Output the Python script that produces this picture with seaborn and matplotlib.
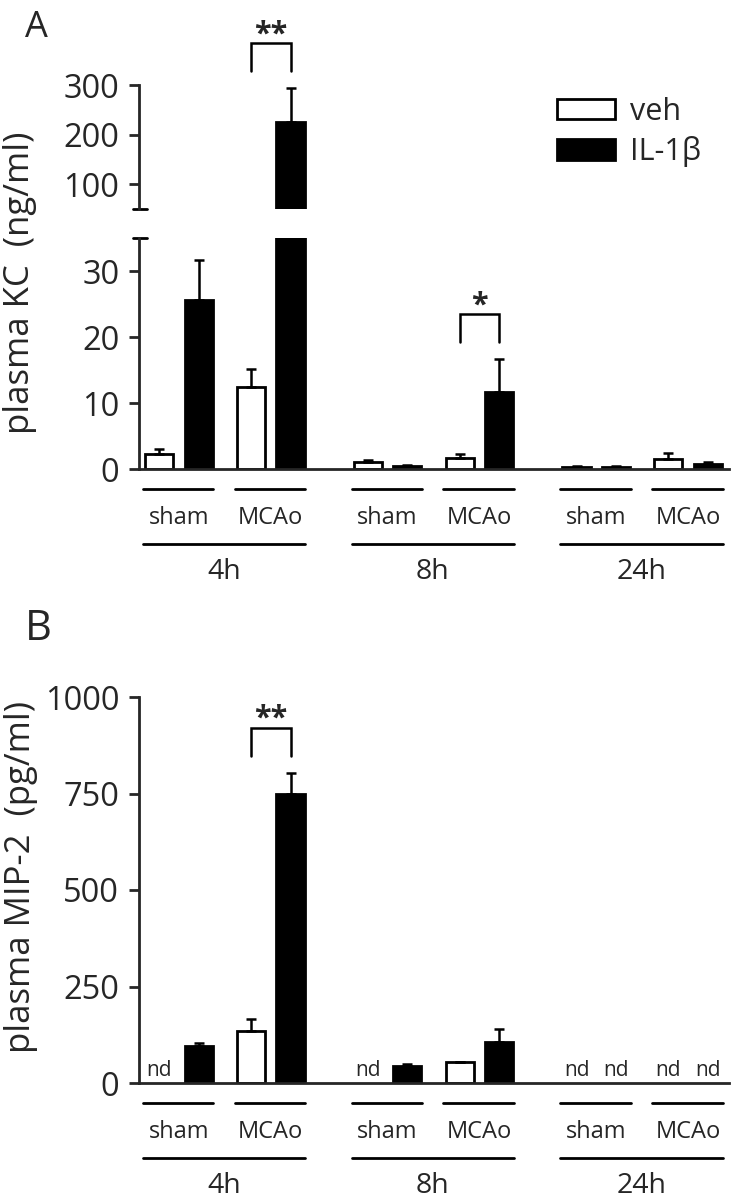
import numpy as np
import pandas as pd
import seaborn as sns
import matplotlib.pyplot as plt
import matplotlib.transforms as mtransforms
from matplotlib.patches import Patch

# Daten
times = ['4h', '8h', '24h']
surgery = ['sham', 'MCAo']
treatments = ['veh', 'IL-1β']

# A: plasma KC (ng/ml), Reihenfolge 4h sham, 4h MCAo, 8h sham, ...
kc_veh = [2.2, 12.5, 1.0, 1.7, 0.3, 1.5]
kc_veh_err = [0.8, 2.7, 0.3, 0.5, 0.1, 1.0]
kc_il = [25.6, 225.0, 0.5, 11.6, 0.3, 0.8]
kc_il_err = [6.0, 68.0, 0.1, 5.0, 0.1, 0.2]

# B: plasma MIP-2 (pg/ml), nan = nd
mip_veh = [np.nan, 135, np.nan, 54, np.nan, np.nan]
mip_veh_err = [np.nan, 30, np.nan, 0, np.nan, np.nan]
mip_il = [97, 750, 44, 106, np.nan, np.nan]
mip_il_err = [6, 53, 4, 34, np.nan, np.nan]

# Signifikanz: (Gruppenindex, Sterne)
kc_sig = [(1, '**'), (3, '*')]
mip_sig = [(1, '**')]

# Layout der Balken (Einheit = Abstand veh -> IL-1β)
PAIR, GROUP, TIME = 1.0, 1.32, 1.95
BAR_W = 0.71
pos_veh = []
x = 0.0
for t in range(len(times)):
    for s in range(len(surgery)):
        pos_veh.append(x)
        x += PAIR + (GROUP if s == 0 else TIME)
pos_veh = np.array(pos_veh)
pos_il = pos_veh + PAIR
XLIM = (pos_veh[0] - 0.506, pos_il[-1] + 0.53)

sns.set_style('ticks')
plt.rcParams['font.family'] = ['Open Sans', 'DejaVu Sans']
plt.rcParams['axes.linewidth'] = 2

W_PX, H_PX = 732, 1199
fig = plt.figure(figsize=(W_PX / 100, H_PX / 100), dpi=100)


def rect(left, top, right, bottom):
    return [left / W_PX, 1 - bottom / H_PX, (right - left) / W_PX, (bottom - top) / H_PX]


ax_top = fig.add_axes(rect(139, 85, 729, 208.8))
ax_low = fig.add_axes(rect(139, 238, 729, 469))
ax_b = fig.add_axes(rect(139, 697, 729, 1083))


def make_df(veh, veh_err, il, il_err):
    rows = []
    for i in range(len(veh)):
        rows.append(dict(time=times[i // 2], surgery=surgery[i % 2], treat='veh',
                         x=pos_veh[i], val=veh[i], err=veh_err[i]))
        rows.append(dict(time=times[i // 2], surgery=surgery[i % 2], treat='IL-1β',
                         x=pos_il[i], val=il[i], err=il_err[i]))
    return pd.DataFrame(rows)


kc_df = make_df(kc_veh, kc_veh_err, kc_il, kc_il_err)
mip_df = make_df(mip_veh, mip_veh_err, mip_il, mip_il_err)


def draw_bars(ax, df):
    for treat, fc in [('veh', 'white'), ('IL-1β', 'black')]:
        d = df[(df.treat == treat) & df.val.notna()]
        w = BAR_W / np.diff(np.sort(d.x.unique())).min()
        sns.barplot(data=d, x='x', y='val', native_scale=True, width=w, color=fc,
                    saturation=1, edgecolor='black', linewidth=2, errorbar=None, ax=ax)
        ax.errorbar(d.x, d.val, yerr=[np.zeros(len(d)), d.err], fmt='none',
                    ecolor='black', elinewidth=1.8, capsize=3.6, capthick=1.8)
    ax.set_xlim(*XLIM)
    ax.set_xlabel('')
    ax.set_ylabel('')
    ax.set_xticks([])
    ax.tick_params(axis='y', length=7.2, width=2, pad=7, labelsize=23.5)


def px_to_data(ax, y, dpx):
    yd = ax.transData.transform((0, y))[1] + dpx
    return ax.transData.inverted().transform((0, yd))[1]


def bracket(ax, i, top, label):
    x0, x1 = pos_veh[i], pos_il[i]
    y_leg = px_to_data(ax, top, 17)
    y_bar = px_to_data(ax, top, 45)
    ax.plot([x0, x0, x1, x1], [y_leg, y_bar, y_bar, y_leg], color='black', lw=1.8,
            clip_on=False, solid_joinstyle='miter')
    ax.text((x0 + x1) / 2, px_to_data(ax, top, 46), label, ha='center', va='baseline',
            fontsize=22, fontweight='bold')


def group_labels(ax):
    base = ax.transData.transform((0, ax.get_ylim()[0]))[1]
    tr = mtransforms.blended_transform_factory(ax.transData, mtransforms.IdentityTransform())
    for t in range(len(times)):
        for s in range(len(surgery)):
            i = t * 2 + s
            ax.plot([pos_veh[i] - 0.41, pos_il[i] + 0.37], [base - 19.5] * 2, color='black',
                    lw=2, transform=tr, clip_on=False)
            ax.text((pos_veh[i] + pos_il[i]) / 2, base - 49, surgery[s], transform=tr,
                    ha='center', va='center', fontsize=17)
        a, b = pos_veh[t * 2] - 0.41, pos_il[t * 2 + 1] + 0.37
        ax.plot([a, b], [base - 75] * 2, color='black', lw=2, transform=tr, clip_on=False)
        ax.text((a + b) / 2, base - 110, times[t], transform=tr, ha='center', va='baseline',
                fontsize=20.5)


# Panel A (unterbrochene Achse)
draw_bars(ax_top, kc_df)
ax_top.set_ylim(50, 300)
ax_top.set_yticks([100, 200, 300])
sns.despine(ax=ax_top, bottom=True)
ax_top.plot([-0.0102, 0.0136], [50, 50], color='black', lw=2,
            transform=ax_top.get_yaxis_transform(), clip_on=False)

draw_bars(ax_low, kc_df)
ax_low.set_ylim(0, 35)
ax_low.set_yticks([0, 10, 20, 30])
sns.despine(ax=ax_low)
ax_low.plot([-0.0102, 0.0136], [35, 35], color='black', lw=2,
            transform=ax_low.get_yaxis_transform(), clip_on=False)

for i, lab in kc_sig:
    top = kc_il[i] + kc_il_err[i]
    bracket(ax_top if top > 35 else ax_low, i, top, lab)
group_labels(ax_low)

# Panel B
draw_bars(ax_b, mip_df)
ax_b.set_ylim(0, 1000)
ax_b.set_yticks([0, 250, 500, 750, 1000])
sns.despine(ax=ax_b)
for i, lab in mip_sig:
    bracket(ax_b, i, mip_il[i] + mip_il_err[i], lab)
nd_tr = ax_b.transData + mtransforms.ScaledTranslation(0, 7 / 100, fig.dpi_scale_trans)
for vals, pos in [(mip_veh, pos_veh), (mip_il, pos_il)]:
    for v, p in zip(vals, pos):
        if np.isnan(v):
            ax_b.text(p, 0, 'nd', transform=nd_tr, ha='center', va='baseline', fontsize=15)
group_labels(ax_b)

# Legende
handles = [Patch(facecolor='white', edgecolor='black', linewidth=2, label=treatments[0]),
           Patch(facecolor='black', edgecolor='black', linewidth=2, label=treatments[1])]
fig.legend(handles=handles, loc='upper left', bbox_to_anchor=(557 / W_PX, 1 - 97 / H_PX),
           frameon=False, fontsize=22, handlelength=1.9, handleheight=0.65,
           handletextpad=0.5, labelspacing=0.3, borderpad=0, borderaxespad=0)

# Achsentitel und Buchstaben
fig.text(20 / W_PX, 1 - 283 / H_PX, 'plasma KC  (ng/ml)', rotation=90, ha='center',
         va='center', fontsize=25)
fig.text(21 / W_PX, 1 - 877 / H_PX, 'plasma MIP-2  (pg/ml)', rotation=90, ha='center',
         va='center', fontsize=25)
fig.text(25 / W_PX, 1 - 37 / H_PX, 'A', ha='left', va='baseline', fontsize=26)
fig.text(25 / W_PX, 1 - 640 / H_PX, 'B', ha='left', va='baseline', fontsize=30)

plt.savefig('out.png', dpi=100)
plt.close()
